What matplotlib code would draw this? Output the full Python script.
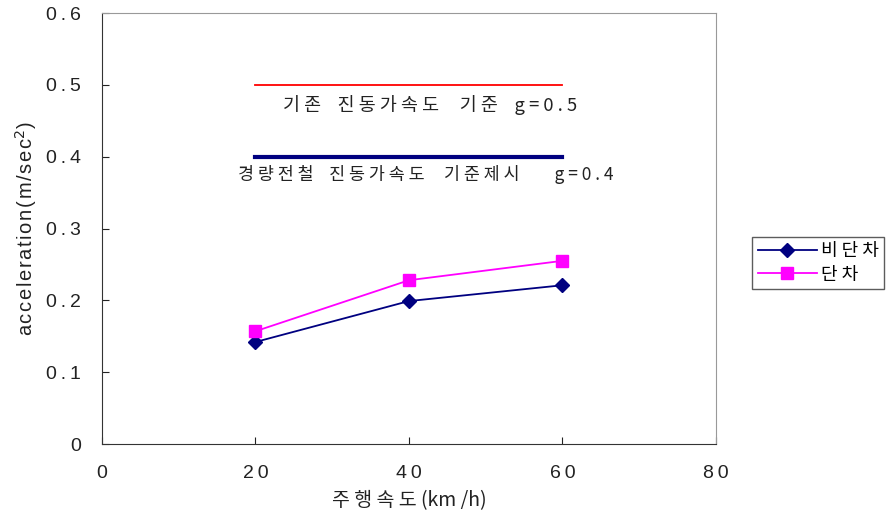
import matplotlib
matplotlib.use("Agg")
import matplotlib.pyplot as plt

plt.rcParams["font.family"] = ["Noto Sans CJK KR", "DejaVu Sans"]

speed = [20, 40, 60]
no_step = [0.142, 0.199, 0.221]      # 비단차
step = [0.157, 0.228, 0.255]         # 단차
old_limit = [0.5, 0.5, 0.5]          # 기존 진동가속도 기준
new_limit = [0.4, 0.4, 0.4]          # 경량전철 진동가속도 기준제시
x_ticks = [0, 20, 40, 60, 80]
y_ticks = [0, 0.1, 0.2, 0.3, 0.4, 0.5, 0.6]
y_ticklabels = ["0", "0.1", "0.2", "0.3", "0.4", "0.5", "0.6"]

NAVY = "#000080"
MAGENTA = "#ff00ff"
RED = "#ff0000"
INK = "#222222"
NUMFONT = ["Liberation Sans", "DejaVu Sans"]
TS = "\u2009"   # thin space, mimics the wide letter spacing of the original
HS = "\u200a"


def spaced(s, sep=TS):
    return sep.join(s)


fig = plt.figure(figsize=(8.89, 5.12), dpi=100)
ax = fig.add_axes([0.1147, 0.1328, 0.6907, 0.8418])

ax.plot(speed, old_limit, color=RED, lw=1.3)
ax.plot(speed, new_limit, color=NAVY, lw=3)
ax.plot(speed, no_step, color=NAVY, lw=1.3, marker="D", ms=7, label="비 단 차")
ax.plot(speed, step, color=MAGENTA, lw=1.3, marker="s", ms=9, label="단 차")

ax.text(23.6, 0.472, "기 존    진 동 가 속 도     기 준    " + spaced("g=0.5", " "),
        ha="left", va="center", fontsize=13.3, color=INK)
ax.text(17.7, 0.3745, "경 량 전 철    진 동 가 속 도     기 준 제 시         "
        + spaced("g=0.4", " "),
        ha="left", va="center", fontsize=12.5, color=INK)

ax.set_xlim(0, 80)
ax.set_ylim(0, 0.6)
ax.set_xticks(x_ticks)
ax.set_xticklabels([spaced(str(v)) for v in x_ticks], family=NUMFONT)
ax.set_yticks(y_ticks)
ax.set_yticklabels([spaced(s) for s in y_ticklabels], family=NUMFONT)
ax.tick_params(direction="in", length=5, labelsize=14, colors=INK, pad=15)
ax.set_xlabel("주 행 속 도 (km /h)", fontsize=14, color=INK, labelpad=6)
ax.set_ylabel(spaced("acceleration(m/sec", HS) + "$^2$" + ")", fontsize=14.5,
              color=INK, labelpad=5, family=NUMFONT)
for s in ("left", "bottom"):
    ax.spines[s].set_color("#333333")
for s in ("top", "right"):
    ax.spines[s].set_color("#999999")

leg = ax.legend(loc="center left", bbox_to_anchor=(1.059, 0.42), fontsize=13,
                frameon=True, fancybox=False, edgecolor="#333333",
                handlelength=3.3, borderpad=0.3, labelspacing=0.3,
                handletextpad=0.2, borderaxespad=0)
leg.get_frame().set_linewidth(1)

fig.savefig("out.png", dpi=100)
